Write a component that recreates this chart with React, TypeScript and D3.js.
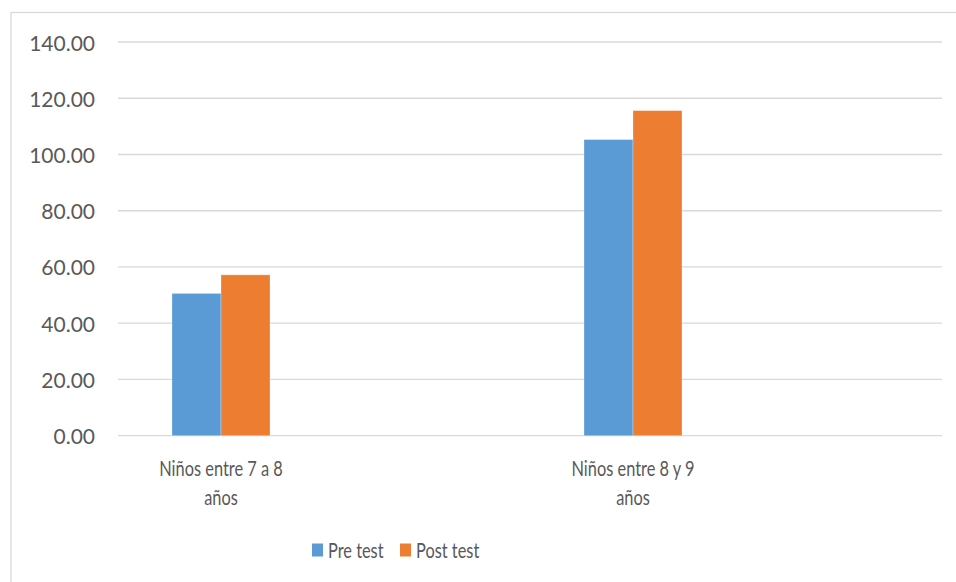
import React from "react";
import * as d3 from "d3";

const categories = ["Niños entre 7 a 8 años", "Niños entre 8 y 9 años"];
const series = ["Pre test", "Post test"];
const preTest = [50.6, 105.3];
const postTest = [57.2, 115.6];
const yTicks = [0, 20, 40, 60, 80, 100, 120, 140];
const colors = ["#5b9bd5", "#ed7d31"];

const W = 956;
const H = 582;
const FONT = "Lato, 'Open Sans', sans-serif";
const TEXT = "#595959";
const GRID = "#d9d9d9";
const FS = 21;
// Word labels are set in a narrowed face.
const NARROW = 0.78;

export default function App() {
  const plot = { left: 118, right: 942, top: 42, bottom: 435.7 };
  const y = d3.scaleLinear().domain([0, 140]).range([plot.bottom, plot.top]);
  // Each category owns two slots along the axis; the bars sit in the first one.
  const slot = d3
    .scaleBand<number>()
    .domain(d3.range(categories.length * 2))
    .range([plot.left, plot.right]);
  const groupWidth = 98;
  const inner = d3.scaleBand<string>().domain(series).range([0, groupWidth]);
  const values = [preTest, postTest];

  const catCenter = (i: number) => (slot(i * 2) as number) + slot.bandwidth() / 2;

  const labelLines = (label: string) => {
    const words = label.split(" ");
    return [words.slice(0, -1).join(" "), words[words.length - 1]];
  };

  return (
    <svg
      width={W}
      height={H}
      style={{ position: "absolute", left: 0, top: 0, background: "#fff" }}
      fontFamily={FONT}
    >
      <rect x={0} y={0} width={W} height={H} fill="#fff" />
      <rect x={11} y={12.5} width={W + 20} height={H + 20} fill="none" stroke={GRID} strokeWidth={1.3} />

      {yTicks.map((t) => (
        <g key={t}>
          <line x1={plot.left} x2={plot.right} y1={y(t)} y2={y(t)} stroke={GRID} strokeWidth={1.3} />
          <text
            x={95}
            y={y(t)}
            textAnchor="end"
            dominantBaseline="central"
            fontSize={FS}
            fill={TEXT}
          >
            {d3.format(".2f")(t)}
          </text>
        </g>
      ))}

      {categories.map((c, i) => {
        const x0 = catCenter(i) - groupWidth / 2;
        return (
          <g key={c}>
            {series.map((s, k) => {
              const v = values[k][i];
              return (
                <rect
                  key={s}
                  x={x0 + (inner(s) as number)}
                  y={y(v)}
                  width={inner.bandwidth()}
                  height={y(0) - y(v)}
                  fill={colors[k]}
                  stroke="#fff"
                  strokeOpacity={0.35}
                  strokeWidth={0.8}
                />
              );
            })}
            {labelLines(c).map((line, li) => (
              <text
                key={li}
                transform={`translate(${catCenter(i)},${468 + li * 29}) scale(${NARROW},1)`}
                textAnchor="middle"
                dominantBaseline="central"
                fontSize={FS}
                fill={TEXT}
              >
                {line}
              </text>
            ))}
          </g>
        );
      })}

      {series.map((s, k) => {
        const lx = k === 0 ? 312 : 400;
        return (
          <g key={s}>
            <rect x={lx} y={543.5} width={11} height={13} fill={colors[k]} />
            <text
              transform={`translate(${lx + 16},550) scale(${NARROW},1)`}
              dominantBaseline="central"
              fontSize={FS}
              fill={TEXT}
            >
              {s}
            </text>
          </g>
        );
      })}
    </svg>
  );
}
